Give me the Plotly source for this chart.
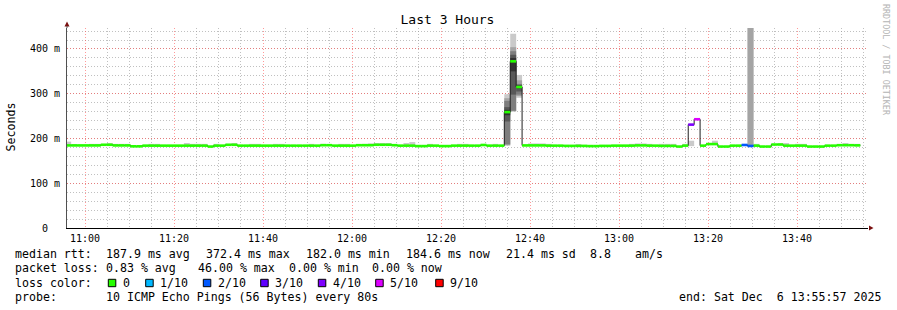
import datetime as dt
import plotly.graph_objects as go

# ---------------- data ----------------
FIRST_SAMPLE = "2025-12-06 10:55:33"   # start of first 80 s sample
STEP_S = 80
X_START = "2025-12-06 10:55:57"
X_END = "2025-12-06 13:55:57"
Y_MAX_S = 0.44688                      # 1.2 x max median

median_ms = [
    184.5, 184.5, 184.5, 184.5, 184.5, 184.5, 186, 186, 184.5, 184.5,
    184.5, 182.5, 182.5, 184, 184, 184, 184, 184, 184, 184,
    184, 184, 184, 184, 182, 184, 184, 186, 186, 184,
    184, 184, 184, 184, 184, 184, 184, 184, 184, 184,
    184, 184, 184, 185, 185, 184, 184, 184, 184, 185,
    185, 185, 186, 186, 186, 185, 184, 184, 184, 183,
    183, 184, 184, 183, 183, 184, 184, 184, 184, 184,
    185.5, 184, 184, 184, 259, 372.4, 315, 184.5, 184.5, 184.5,
    184.5, 184, 184, 184, 183.5, 183.5, 183.5, 183.5, 183, 183,
    183.5, 183.5, 184, 184, 184, 184, 184.5, 184.5, 184, 184,
    183.5, 183.5, 183.5, 182, 184, 231, 243, 184, 187.5, 187.5,
    182, 182, 184, 184, 185.5, 183.3, 184, 182, 182, 186.5,
    186.5, 184, 184, 184, 184, 182, 182, 182, 184, 184,
    185, 185, 185, 184.6,
]

smoke_hi_ms = [
    193, 187, None, None, 188, 188, None, 190, 188, 188,
    188, None, None, None, 188, 188, None, None, None, None,
    190, 188, 188, 188, None, 188, None, None, 190, None,
    None, 188, 188, None, None, 188, 188, None, None, None,
    None, 188, None, 188, None, None, 188, 188, None, None,
    188, 189, 190, 190, 189, None, None, 190, 192, None,
    None, 188, None, None, None, None, 188, 188, None, None,
    None, None, 188, None, None, None, None, None, 189, 189,
    189, 188, None, None, None, None, 187, None, None, None,
    None, None, None, None, None, 188, 189, 189, 188, None,
    188, 188, 188, None, 188, None, None, None, 190, 195,
    None, None, None, None, None, None, 188, None, None, None,
    190, 190, None, 188, 188, None, None, None, None, None,
    None, 190, None, 188,
]

loss_count = [
    0, 0, 0, 0, 0, 0, 0, 0, 0, 0,
    0, 0, 0, 0, 0, 0, 0, 0, 0, 0,
    0, 0, 0, 0, 0, 0, 0, 0, 0, 0,
    0, 0, 0, 0, 0, 0, 0, 0, 0, 0,
    0, 0, 0, 0, 0, 0, 0, 0, 0, 0,
    0, 0, 0, 0, 0, 0, 0, 0, 0, 0,
    0, 0, 0, 0, 0, 0, 0, 0, 0, 0,
    0, 0, 0, 0, 0, 0, 0, 0, 0, 0,
    0, 0, 0, 0, 0, 0, 0, 0, 0, 0,
    0, 0, 0, 0, 0, 0, 0, 0, 0, 0,
    0, 0, 0, 0, 0, 4, 5, 0, 0, 0,
    0, 0, 0, 0, 2, 2, 0, 0, 0, 0,
    0, 0, 0, 0, 0, 0, 0, 0, 0, 0,
    0, 0, 0, 0,
]

# samples whose 10 individual pings (sorted, ms) are shown as layered smoke
detail_idx = [74, 75, 76, 105, 115]
detail_pings_ms = [
    [184, 185, 187, 238, 252, 264, 270, 284, 290, 299],
    [260, 261, 262, 298, 350, 380, 387, 395, 404, 434],
    [291, 295, 298, 305, 312, 318, 320, 322, 330, 342],
    [183, None, None, None, None, None, None, None, None, 195],
    [181, 183, 183, 183, 183, 183, 183, 183, 470, 500],
]

loss_levels = [0, 1, 2, 3, 4, 5, 9]
loss_labels = ["0", "1/10", "2/10", "3/10", "4/10", "5/10", "9/10"]
loss_colors = ["#26ff00", "#00b8ff", "#0059ff", "#5e00ff", "#7e00ff", "#dd00ff", "#ff0000"]
smoke_colors = ["#cacaca", "#a4a4a4", "#7e7e7e", "#585858", "#323232"]

y_tickvals = [0, 0.1, 0.2, 0.3, 0.4]
y_ticktext = ["0\u00a0\u00a0", "100 m", "200 m", "300 m", "400 m"]

title_text = "Last 3 Hours"
y_title = "Seconds"
watermark = "RRDTOOL / TOBI OETIKER"
rtt_label = "median rtt:"
rtt_items = ["187.9 ms avg", "372.4 ms max", "182.0 ms min", "184.6 ms now",
             "21.4 ms sd", "8.8", "am/s"]
loss_label = "packet loss:"
loss_items = ["0.83 % avg", "46.00 % max", "0.00 % min", "0.00 % now"]
color_label = "loss color:"
probe_label = "probe:"
probe_text = "10 ICMP Echo Pings (56 Bytes) every 80s"
end_text = "end: Sat Dec\u00a0\u00a06 13:55:57 2025"

# ---------------- layout geometry (pixels) ----------------
W, H = 897, 310
PL, PR, PT, PB = 67, 868, 28, 228
FONT = "DejaVu Sans Mono"


def xp(px):
    return (px - PL) / (PR - PL)


def yp(py):
    return (PB - py) / (PB - PT)


# ---------------- build ----------------
n = len(median_ms)
t0 = dt.datetime.fromisoformat(FIRST_SAMPLE)
starts = [t0 + dt.timedelta(seconds=STEP_S * i) for i in range(n + 1)]
centers = [s + dt.timedelta(seconds=STEP_S / 2) for s in starts[:n]]

fig = go.Figure()

# light smoke for regular samples
bx, bb, bh = [], [], []
for i in range(n):
    if smoke_hi_ms[i] is not None and i not in detail_idx:
        bx.append(centers[i])
        bb.append(median_ms[i] / 1000)
        bh.append((smoke_hi_ms[i] - median_ms[i]) / 1000)
fig.add_trace(go.Bar(x=bx, y=bh, base=bb, width=STEP_S * 1000,
                     marker=dict(color=smoke_colors[0], line=dict(width=0)),
                     hoverinfo="skip"))

# layered smoke for detailed samples
for k in range(5):
    bx, bb, bh = [], [], []
    for idx, p in zip(detail_idx, detail_pings_ms):
        lo, hi = p[k], p[9 - k]
        if lo is None or hi is None or hi <= lo:
            continue
        bx.append(centers[idx])
        bb.append(lo / 1000)
        bh.append((hi - lo) / 1000)
    if bx:
        fig.add_trace(go.Bar(x=bx, y=bh, base=bb, width=STEP_S * 1000,
                             marker=dict(color=smoke_colors[k], line=dict(width=0)),
                             hoverinfo="skip"))

# thin dark median line (stepped)
fig.add_trace(go.Scatter(x=starts, y=[v / 1000 for v in median_ms] + [median_ms[-1] / 1000],
                         mode="lines", line=dict(shape="hv", color="#202020", width=1),
                         hoverinfo="skip"))


def loss_class(c):
    j = 0
    for k, lv in enumerate(loss_levels):
        if c >= lv:
            j = k
    return j


# coloured median: one horizontal block per sample, colour by loss
cls = [loss_class(c) for c in loss_count]
for j, col in enumerate(loss_colors):
    xs, ys = [], []
    for i in range(n):
        if cls[i] != j:
            continue
        xs += [starts[i], starts[i + 1], None]
        ys += [median_ms[i] / 1000, median_ms[i] / 1000, None]
    if xs:
        fig.add_trace(go.Scatter(x=xs, y=ys, mode="lines",
                                 line=dict(color=col, width=2.6),
                                 connectgaps=False, hoverinfo="skip"))

MAJ = "rgba(255,70,70,0.55)"
MIN = "rgba(150,150,150,0.6)"
DASH = "1px,2px"

fig.update_layout(
    width=W, height=H,
    margin=dict(l=PL, r=W - PR, t=PT, b=H - PB, pad=0),
    paper_bgcolor="white", plot_bgcolor="white",
    barmode="overlay", showlegend=False,
    font=dict(family=FONT, size=10, color="black"),
    title=dict(text=title_text, x=447.5 / W, xref="container", xanchor="center",
               y=1 - 19 / H, yref="container", yanchor="middle",
               font=dict(family=FONT, size=13, color="black")),
)
fig.update_xaxes(
    type="date", range=[X_START, X_END], tickformat="%H:%M",
    tick0="2025-12-06 11:00:00", dtick=20 * 60 * 1000,
    showgrid=True, gridcolor=MAJ, griddash=DASH, gridwidth=1,
    minor=dict(tick0="2025-12-06 11:00:00", dtick=5 * 60 * 1000, showgrid=True,
               gridcolor=MIN, griddash=DASH, gridwidth=1),
    showline=True, linecolor="black", linewidth=1, zeroline=False,
    ticks="", ticklabelstandoff=1, tickfont=dict(family=FONT, size=10),
)
fig.update_yaxes(
    range=[0, Y_MAX_S], tickmode="array", tickvals=y_tickvals, ticktext=y_ticktext,
    showgrid=True, gridcolor=MAJ, griddash=DASH, gridwidth=1,
    minor=dict(tickmode="linear", tick0=0, dtick=0.02, showgrid=True,
               gridcolor=MIN, griddash=DASH, gridwidth=1),
    showline=True, linecolor="#505050", linewidth=1, zeroline=False,
    ticks="", ticklabelstandoff=4, tickfont=dict(family=FONT, size=10),
)

shapes = []
# arrow heads
shapes.append(dict(type="path", xref="paper", yref="paper", xsizemode="pixel", ysizemode="pixel",
                   xanchor=0, yanchor=1, path="M -2.5,1.5 L 2.5,1.5 L 0,6.5 Z",
                   fillcolor="#7a1010", line=dict(width=0)))
shapes.append(dict(type="line", xref="paper", yref="paper", xsizemode="pixel", ysizemode="pixel",
                   xanchor=0, yanchor=1, x0=0, x1=0, y0=0, y1=2, line=dict(color="#505050", width=1)))
shapes.append(dict(type="path", xref="paper", yref="paper", xsizemode="pixel", ysizemode="pixel",
                   xanchor=1, yanchor=0, path="M 1,-2.5 L 1,2.5 L 5.5,0 Z",
                   fillcolor="#7a1010", line=dict(width=0)))

# loss colour legend boxes
box_px = [108.3, 145.7, 203.3, 260.7, 318.3, 375.7, 435.7]
for bxp, col in zip(box_px, loss_colors):
    shapes.append(dict(type="rect", xref="paper", yref="paper",
                       x0=xp(bxp), x1=xp(bxp + 7.5), y0=yp(286.7), y1=yp(279.3),
                       fillcolor=col, line=dict(color="black", width=1)))
fig.update_layout(shapes=shapes)

ann = []


def txt(px, py, s, size=11.6, color="black", xanchor="left", angle=0):
    ann.append(dict(x=xp(px), y=yp(py), xref="paper", yref="paper", text=s, showarrow=False,
                    xanchor=xanchor, yanchor="middle", textangle=angle, borderpad=0, borderwidth=0,
                    font=dict(family=FONT, size=size, color=color)))


txt(10, 127.5, y_title, angle=-90, xanchor="center")
txt(886, 60, watermark, size=8.4, color="#b4b4b4", angle=90, xanchor="center")

L1, L2, L3, L4 = 253.5, 268.3, 282.5, 296.5
txt(15, L1, rtt_label)
for s, px in zip(rtt_items, [106.3, 206.3, 305.7, 405.7, 506.3, 590, 634.5]):
    txt(px, L1, s)
txt(15, L2, loss_label)
for s, px in zip(loss_items, [106.3, 198, 288.5, 371.5]):
    txt(px, L2, s)
txt(15, L3, color_label)
for bxp, s in zip(box_px, loss_labels):
    txt(bxp + 14.5, L3, s)
txt(15, L4, probe_label)
txt(106.3, L4, probe_text)
txt(678.5, L4, end_text)

fig.update_layout(annotations=ann)
fig.write_html("out.html")
